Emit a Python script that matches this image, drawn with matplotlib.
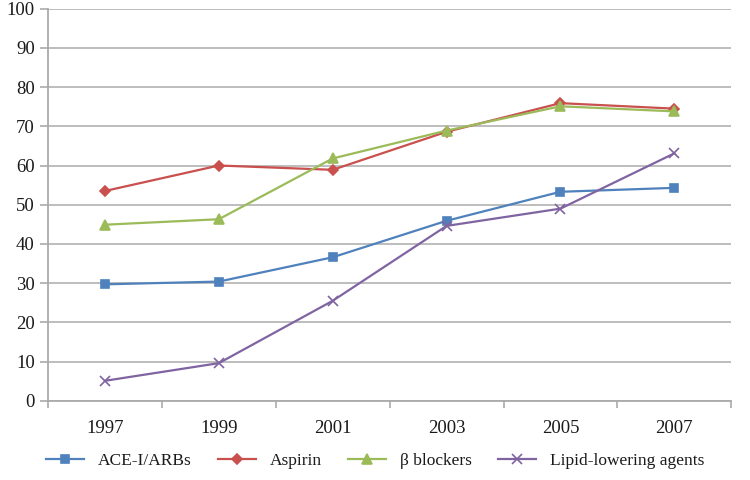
import numpy as np
import matplotlib.pyplot as plt

plt.rcParams['font.family'] = ['Liberation Serif', 'DejaVu Serif']

years = ['1997', '1999', '2001', '2003', '2005', '2007']
ace = [29.7, 30.4, 36.6, 45.9, 53.3, 54.3]
aspirin = [53.5, 60.0, 58.9, 68.6, 75.9, 74.5]
beta = [44.9, 46.3, 61.8, 68.9, 75.1, 73.8]
lipid = [5.1, 9.6, 25.5, 44.6, 49.0, 63.1]

series = [
    ('ACE-I/ARBs', ace, '#4f81bd', 's', 6),
    ('Aspirin', aspirin, '#c9504d', 'D', 5),
    ('β blockers', beta, '#9bbb59', '^', 7),
    ('Lipid-lowering agents', lipid, '#8064a2', 'x', 7),
]

fig = plt.figure(figsize=(7.5, 4.8), dpi=100)
ax = fig.add_axes([0.064, 0.165, 0.911, 0.817])

x = np.arange(len(years))
for label, vals, col, mk, ms in series:
    ax.plot(x, vals, color=col, lw=1.6, marker=mk, markersize=ms,
            markerfacecolor=col, markeredgecolor=col, markeredgewidth=1.2,
            label=label)

ax.set_xlim(-0.5, len(years) - 0.5)
ax.set_ylim(0, 100)
ax.set_yticks(np.arange(0, 101, 10))
ax.set_xticks(x)
ax.set_xticklabels(years)
ax.set_xticks(np.arange(-0.5, len(years), 1), minor=True)
ax.tick_params(axis='x', which='major', length=0, pad=14, labelsize=13.5, colors='#1a1a1a')
ax.tick_params(axis='x', which='minor', length=5, color='#aaaaaa', width=1.2)
ax.tick_params(axis='y', length=6, width=1.2, labelsize=13.5, labelcolor='#1a1a1a', color='#aaaaaa')

ax.grid(axis='y', color='#b8b8b8', lw=1.3)
ax.set_axisbelow(True)
for s in ['top', 'right']:
    ax.spines[s].set_visible(False)
for s in ['left', 'bottom']:
    ax.spines[s].set_color('#aaaaaa')
    ax.spines[s].set_linewidth(1.3)

leg = fig.legend(loc='center', bbox_to_anchor=(0.5, 0.04), ncol=4, frameon=False,
                 fontsize=12.5, handlelength=2.2, columnspacing=1.5)
for t in leg.get_texts():
    t.set_color('#1a1a1a')

fig.savefig('out.png', dpi=100)
